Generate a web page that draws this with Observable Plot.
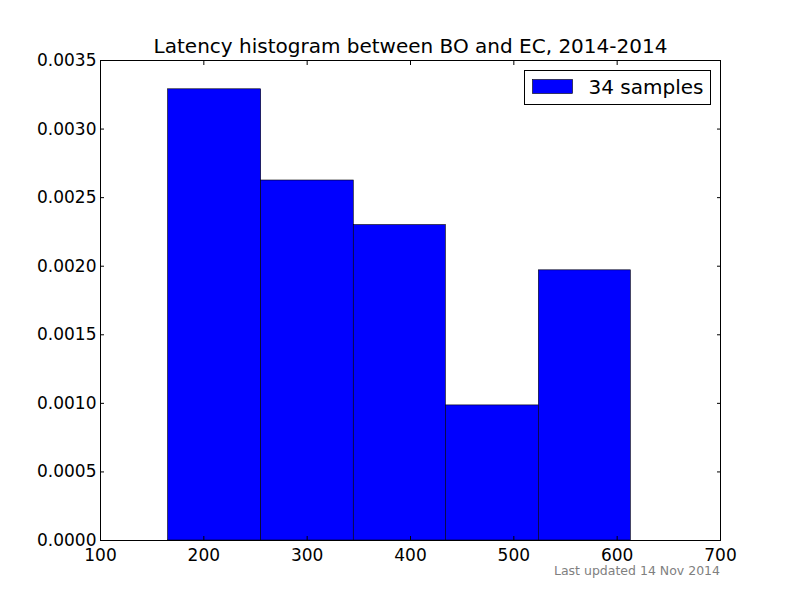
<!DOCTYPE html>
<html>
<head>
<meta charset="utf-8">
<script src="https://cdn.jsdelivr.net/npm/d3@7"></script>
<script src="https://cdn.jsdelivr.net/npm/@observablehq/plot@0.6"></script>
<style>
  body { margin: 0; background: #fff; }
  #chart { position: relative; width: 800px; height: 600px; }
</style>
</head>
<body>
<div id="chart"></div>
<script>
const binStart = [165.4, 255.5, 345.1, 434.2, 524.2];
const binEnd   = [255.5, 345.1, 434.2, 524.2, 613.2];
const density  = [0.00329, 0.002625, 0.0023, 0.000985, 0.00197];
const xTicks = [100, 200, 300, 400, 500, 600, 700];
const yTicks = [0, 0.0005, 0.001, 0.0015, 0.002, 0.0025, 0.003, 0.0035];
const titleText = "Latency histogram between BO and EC, 2014-2014";
const legendLabel = "34 samples";
const footerText = "Last updated 14 Nov 2014";

const bins = binStart.map((s, i) => ({x1: s, x2: binEnd[i], y: density[i]}));
const font = "DejaVu Sans, sans-serif";

const plot = Plot.plot({
  width: 800,
  height: 600,
  marginLeft: 100,
  marginRight: 80,
  marginTop: 60,
  marginBottom: 60,
  style: {fontFamily: font, fontSize: "17px", color: "#000", background: "#fff"},
  x: {domain: [100, 700]},
  y: {domain: [0, 0.0035]},
  marks: [
    Plot.rectY(bins, {x1: "x1", x2: "x2", y: "y", fill: "#0000ff", stroke: "#000", strokeWidth: 0.6}),
    Plot.frame({stroke: "#000", strokeWidth: 1}),
    Plot.axisX({ticks: xTicks, tickSize: 0, tickPadding: 8, label: null, tickFormat: d => d.toString(), fontSize: 17}),
    Plot.axisX({ticks: xTicks, tickSize: -4, tickFormat: () => "", label: null}),
    Plot.axisX({anchor: "top", ticks: xTicks, tickSize: -4, tickFormat: () => "", label: null}),
    Plot.axisY({ticks: yTicks, tickSize: 0, tickPadding: 4, label: null, tickFormat: d => d.toFixed(4), fontSize: 17}),
    Plot.axisY({ticks: yTicks, tickSize: -4, tickFormat: () => "", label: null}),
    Plot.axisY({anchor: "right", ticks: yTicks, tickSize: -4, tickFormat: () => "", label: null})
  ]
});

document.getElementById("chart").appendChild(plot);

const svg = d3.select(plot);
svg.append("text")
  .attr("x", 410.5).attr("y", 53)
  .attr("text-anchor", "middle")
  .attr("font-family", font).attr("font-size", 20)
  .attr("fill", "#000")
  .text(titleText);

const lg = svg.append("g");
lg.append("rect").attr("x", 524.5).attr("y", 70.5).attr("width", 186).attr("height", 34)
  .attr("fill", "#fff").attr("stroke", "#000").attr("stroke-width", 1);
lg.append("rect").attr("x", 532.5).attr("y", 79.5).attr("width", 40).attr("height", 14)
  .attr("fill", "#0000ff").attr("stroke", "#000").attr("stroke-width", 0.6);
lg.append("text").attr("x", 588.5).attr("y", 94)
  .attr("text-anchor", "start")
  .attr("font-family", font).attr("font-size", 20).attr("fill", "#000")
  .text(legendLabel);

svg.append("text")
  .attr("x", 720).attr("y", 575)
  .attr("text-anchor", "end")
  .attr("font-family", font).attr("font-size", 12.5)
  .attr("fill", "#808080")
  .text(footerText);
</script>
</body>
</html>
